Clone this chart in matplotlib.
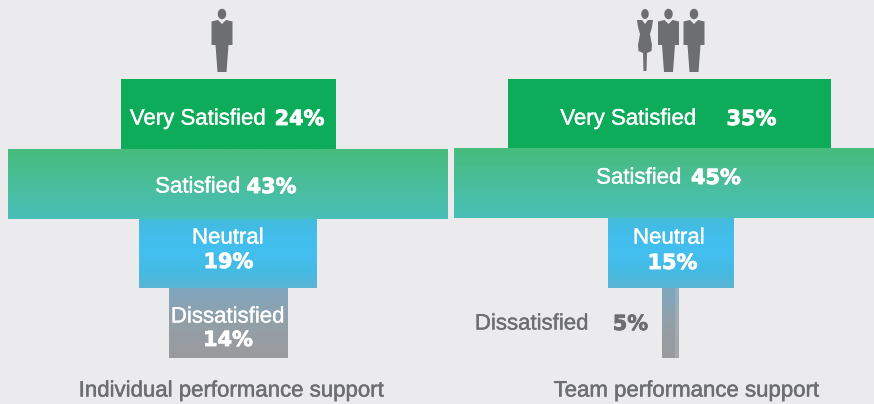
#!/usr/bin/env python3
"""Two funnels: individual vs team performance support."""
import matplotlib

matplotlib.use("Agg")
import matplotlib.patheffects as pe
import matplotlib.pyplot as plt
import numpy as np
from matplotlib.colors import LinearSegmentedColormap
from matplotlib.patches import Ellipse, Polygon

levels = ["Very Satisfied", "Satisfied", "Neutral", "Dissatisfied"]
individual_pct = [24, 43, 19, 14]
team_pct = [35, 45, 15, 5]
# the funnel is not drawn to scale, so the widths are read separately
individual_widths = [215, 440, 178, 119]
team_widths = [323, 432, 126, 17]
titles = ["Individual performance support", "Team performance support"]

BG = "#EBEBED"
GREY = "#6D6E71"
SANS = "Liberation Sans"
HEAVY = "DejaVu Sans"

gradients = [
    ["#0DAC5B", "#0DAC5B"],
    ["#47BC7D", "#49BE9B", "#4ABFB8"],
    ["#42BBDC", "#42BEEC", "#43BEF0", "#43BBE4", "#5BB5D4"],
    ["#7FA6BE", "#93A0A8", "#9A9A9D"],
]

fig, ax = plt.subplots(figsize=(8.74, 4.04), dpi=100)
fig.subplots_adjust(0, 0, 1, 1)
fig.patch.set_facecolor(BG)
ax.axis("off")


def funnel(widths, centers, tops, bottoms):
    for i in range(len(widths)):
        left = centers[i] - widths[i] / 2
        bar = ax.barh((tops[i] + bottoms[i]) / 2, widths[i], bottoms[i] - tops[i],
                      left=left, color="none", lw=0)[0]
        cmap = LinearSegmentedColormap.from_list(f"g{i}", gradients[i])
        grad = np.linspace(0, 1, 64).reshape(-1, 1)
        im = ax.imshow(grad, cmap=cmap, aspect="auto", zorder=1,
                       extent=(left, left + widths[i], bottoms[i], tops[i]))
        im.set_clip_path(bar)


def label(x, y, s, color="white", heavy=False):
    if heavy:
        ax.text(x, y, s, color=color, fontsize=15, family=HEAVY,
                weight="bold", ha="center", va="center", zorder=3,
                path_effects=[pe.withStroke(linewidth=0.6, foreground=color)])
    else:
        ax.text(x, y, s, color=color, fontsize=16, family=SANS,
                ha="center", va="center", zorder=3,
                path_effects=[pe.withStroke(linewidth=0.25, foreground=color)])


def man(cx, top=9, color=GREY):
    ax.add_patch(Ellipse((cx, top + 5), 8.5, 10.5, color=color, lw=0))
    ax.add_patch(Polygon([(cx - 10.5, top + 12.5), (cx - 4, top + 11), (cx, top + 15),
                          (cx + 4, top + 11), (cx + 10.5, top + 12.5), (cx + 10.5, top + 36),
                          (cx + 6.5, top + 36), (cx + 4.5, top + 63), (cx - 4.5, top + 63),
                          (cx - 6.5, top + 36), (cx - 10.5, top + 36)],
                         color=color, lw=0))


def woman(cx, top=9, color=GREY):
    ax.add_patch(Ellipse((cx, top + 5), 7.5, 10, color=color, lw=0))
    ax.add_patch(Polygon([(cx - 8, top + 11), (cx - 3, top + 11), (cx, top + 15),
                          (cx + 3, top + 11), (cx + 8, top + 11), (cx + 7, top + 18),
                          (cx + 5, top + 25), (cx + 7, top + 36), (cx + 6.5, top + 42),
                          (cx + 2, top + 44), (cx + 1.5, top + 62), (cx - 1.5, top + 62),
                          (cx - 2, top + 44), (cx - 6.5, top + 42), (cx - 7, top + 36),
                          (cx - 5, top + 25), (cx - 7, top + 18)],
                         color=color, lw=0))


# left funnel
funnel(individual_widths, [228.5, 228, 228, 228.5], [79, 149, 219, 288], [149, 219, 288, 358])
label(198, 119, levels[0])
label(299.5, 119, f"{individual_pct[0]}%", heavy=True)
label(198, 187, levels[1])
label(271.5, 187, f"{individual_pct[1]}%", heavy=True)
label(228, 238, levels[2])
label(228.5, 262, f"{individual_pct[2]}%", heavy=True)
label(228, 317, levels[3])
label(228, 340, f"{individual_pct[3]}%", heavy=True)
man(222)

# right funnel
funnel(team_widths, [669.5, 670, 671, 670.5], [79, 148, 218, 288], [148, 218, 288, 358])
# lighter edge on the thin bar
ax.barh(323, 4, 70, left=675, color="white", alpha=0.13, lw=0, zorder=2)
label(628.5, 119, levels[0])
label(751.5, 119, f"{team_pct[0]}%", heavy=True)
label(639, 178, levels[1])
label(716, 178, f"{team_pct[1]}%", heavy=True)
label(669, 238, levels[2])
label(672.5, 263, f"{team_pct[2]}%", heavy=True)
label(532, 324, levels[3], color=GREY)
label(630.5, 324, f"{team_pct[3]}%", color=GREY, heavy=True)
woman(645)
man(668.5)
man(694)

for x, title in zip([231.5, 686.5], titles):
    ax.text(x, 391, title, color=GREY, fontsize=16, family=SANS,
            ha="center", va="center",
            path_effects=[pe.withStroke(linewidth=0.35, foreground=GREY)])

ax.set_xlim(0, 874)
ax.set_ylim(404, 0)
fig.savefig("out.png", dpi=100, facecolor=BG)
